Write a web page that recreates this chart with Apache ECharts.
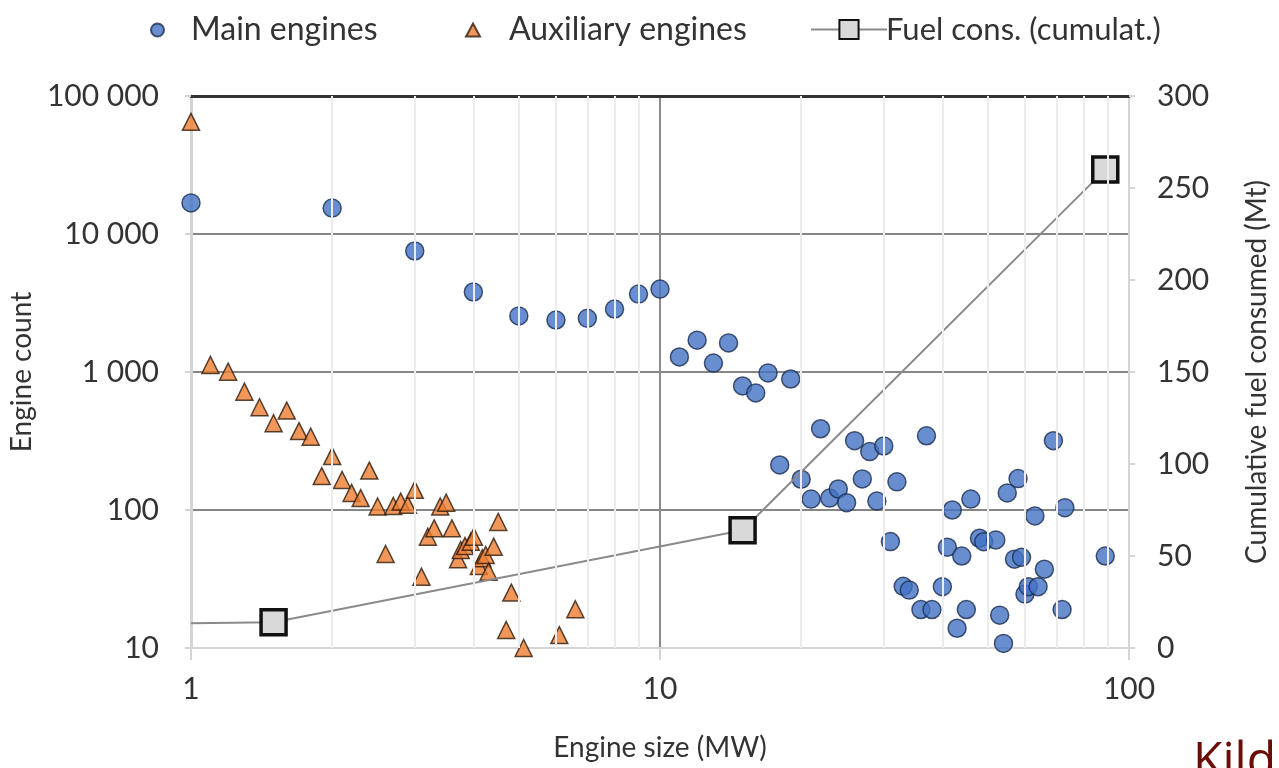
<!DOCTYPE html>
<html><head><meta charset="utf-8">
<script src="https://cdn.jsdelivr.net/npm/echarts@6/dist/echarts.min.js"></script>
<style>html,body{margin:0;padding:0;background:#fff}#c{width:1279px;height:768px}</style>
</head><body><div id="c"></div>
<script>
// Main engines: [engine size MW, engine count]
const mainEngines = [
  [1,16800],[2,15400],[3,7530],[4,3800],[5,2550],[6,2380],[7,2450],[8,2860],[9,3670],[10,3990],
  [11,1285],[12,1700],[13,1160],[14,1625],[15,792],[16,705],[17,985],[19,890],
  [18,212],[20,167],[21,120],[22,388],[23,122],[24,142],[25,113],[26,318],[27,168],[28,265],
  [29,116],[30,291],[31,59],[32,160],[33,28],[34,26.3],[36,19],[37,345],[38,19],[40,27.8],
  [41,53.7],[42,100],[43,13.9],[44,46.4],[45,19],[46,120],[48,62.4],[49,58.9],[52,60.7],
  [53,17.3],[54,10.8],[55,133],[57,44],[58,169],[59,45.4],[60,24.6],[61,27.8],[63,90.6],
  [64,27.8],[66,37.2],[69,318],[72,19],[73,104],[89,46.4]
];
// Auxiliary engines: [engine size MW, engine count]
const auxEngines = [
  [1,65000],[1.1,1125],[1.2,1005],[1.3,720],[1.4,555],[1.5,425],[1.6,525],[1.7,373],[1.8,340],
  [1.9,176],[2.0,246],[2.1,165],[2.2,133],[2.3,122],[2.4,193],[2.5,106],[2.6,48],[2.7,107],
  [2.8,115],[2.9,109],[3.0,140],[3.1,32.9],[3.2,64],[3.3,73.6],[3.4,106],[3.5,113],[3.6,73.6],
  [3.71,44],[3.76,51.3],[3.84,54.8],[3.95,58.9],[4.01,64],[4.11,39.3],[4.18,44.7],[4.25,47.2],
  [4.31,35.7],[4.42,54.2],[4.52,82],[4.7,13.5],[4.82,25.2],[5.12,10],[6.1,12.4],[6.6,19.1]
];
// Cumulative fuel consumption: [engine size MW, Mt]
const fuelCumulative = [[1,13.5],[1.5,14],[15,64],[89,260]];
const minorGridX = [2,3,4,5,6,7,8,9,20,30,40,50,60,70,80,90];
const seriesNames = ['Main engines','Auxiliary engines','Fuel cons. (cumulat.)'];

const FONT = 'Lato';
const txt = '#333333';
const fmtThousands = v => String(Math.round(v)).replace(/\B(?=(\d{3})+(?!\d))/g, ' ');

const chart = echarts.init(document.getElementById('c'));
chart.setOption({
  animation: false,
  textStyle: { fontFamily: FONT },
  grid: { left: 190, right: 144, top: 96, bottom: 120 },
  legend: [
    { left: 145, top: 9, data: [seriesNames[0]], itemWidth: 13, itemHeight: 13,
      textStyle: { fontSize: 32, color: txt, fontFamily: FONT, padding: [0,0,0,22] } },
    { left: 460, top: 9, data: [seriesNames[1]], itemWidth: 14, itemHeight: 13,
      textStyle: { fontSize: 32, color: txt, fontFamily: FONT, padding: [0,0,0,24] } },
    { left: 805, top: 9, data: [seriesNames[2]], itemWidth: 76, itemHeight: 24, itemGap: 0,
      textStyle: { fontSize: 31, color: txt, fontFamily: FONT, padding: [0,0,0,-6] } }
  ],
  xAxis: [
    { type: 'log', logBase: 10, min: 1, max: 100, position: 'bottom',
      name: 'Engine size (MW)', nameLocation: 'middle', nameGap: 86,
      nameTextStyle: { fontSize: 28, color: txt, fontFamily: FONT },
      axisLine: { show: true, lineStyle: { color: '#d4d4d4', width: 2 } },
      axisTick: { show: true, length: 12, lineStyle: { color: '#d4d4d4', width: 2 } },
      axisLabel: { fontSize: 30, color: txt, margin: 26, fontFamily: FONT },
      splitLine: { show: true, showMinLine: false, showMaxLine: false, lineStyle: { color: '#8c8c8c', width: 2 } }
    },
    { type: 'log', logBase: 10, min: 1, max: 100, position: 'top',
      axisLine: { show: true, lineStyle: { color: '#333333', width: 3 } },
      axisTick: { show: false }, axisLabel: { show: false }, splitLine: { show: false }
    }
  ],
  yAxis: [
    { type: 'log', logBase: 10, min: 10, max: 100000, position: 'left',
      name: 'Engine count', nameLocation: 'middle', nameGap: 146, nameRotate: 90,
      nameTextStyle: { fontSize: 28, color: txt, fontFamily: FONT },
      axisLine: { show: true, lineStyle: { color: '#d4d4d4', width: 3 } },
      axisTick: { show: true, length: 6, lineStyle: { color: '#d4d4d4', width: 2 } },
      axisLabel: { fontSize: 30, color: txt, margin: 32, fontFamily: FONT, formatter: fmtThousands },
      splitLine: { show: true, showMinLine: false, showMaxLine: false, lineStyle: { color: '#868686', width: 2 } }
    },
    { type: 'value', min: 0, max: 300, interval: 50, position: 'right',
      name: 'Cumulative fuel consumed (Mt)', nameLocation: 'middle', nameGap: 114, nameRotate: 90,
      nameTextStyle: { fontSize: 28, color: txt, fontFamily: FONT },
      axisLine: { show: true, lineStyle: { color: '#d4d4d4', width: 2 } },
      axisTick: { show: true, length: 6, lineStyle: { color: '#d4d4d4', width: 2 } },
      axisLabel: { fontSize: 30, color: txt, margin: 28, fontFamily: FONT },
      splitLine: { show: false }
    }
  ],
  graphic: [
    { type: 'text', left: 1193, top: 738, silent: true,
      style: { text: 'Kild', fill: '#6a0d07', fontSize: 48, fontFamily: 'Open Sans' } }
  ],
  series: [
    { name: 'minor-grid', type: 'line', data: [], xAxisIndex: 0, yAxisIndex: 0, z: 1, silent: true,
      markLine: { silent: true, symbol: ['none','none'], label: { show: false }, animation: false,
        lineStyle: { type: 'solid', color: '#ececec', width: 2 },
        data: minorGridX.map(v => ({ xAxis: v })) } },
    { name: seriesNames[0], type: 'scatter', data: mainEngines, xAxisIndex: 0, yAxisIndex: 0, z: 3,
      symbol: 'circle', symbolSize: 18,
      itemStyle: { color: '#4472c4', borderColor: '#1c2e50', borderWidth: 1.5 } },
    { name: seriesNames[1], type: 'scatter', data: auxEngines, xAxisIndex: 0, yAxisIndex: 0, z: 3,
      symbol: 'triangle', symbolSize: 17,
      itemStyle: { color: '#ed7d31', borderColor: '#2e1c0e', borderWidth: 1.5 } },
    { name: seriesNames[2], type: 'line', xAxisIndex: 0, yAxisIndex: 1, z: 4,
      data: fuelCumulative.map((p, i) => i === 0 ? { value: p, symbol: 'none' } : { value: p }),
      symbol: 'rect', symbolSize: 25, showAllSymbol: true,
      lineStyle: { color: '#8a8a8a', width: 2 },
      itemStyle: { color: '#d9d9d9', borderColor: '#111', borderWidth: 3.5 } }
  ]
});
</script>
</body></html>
